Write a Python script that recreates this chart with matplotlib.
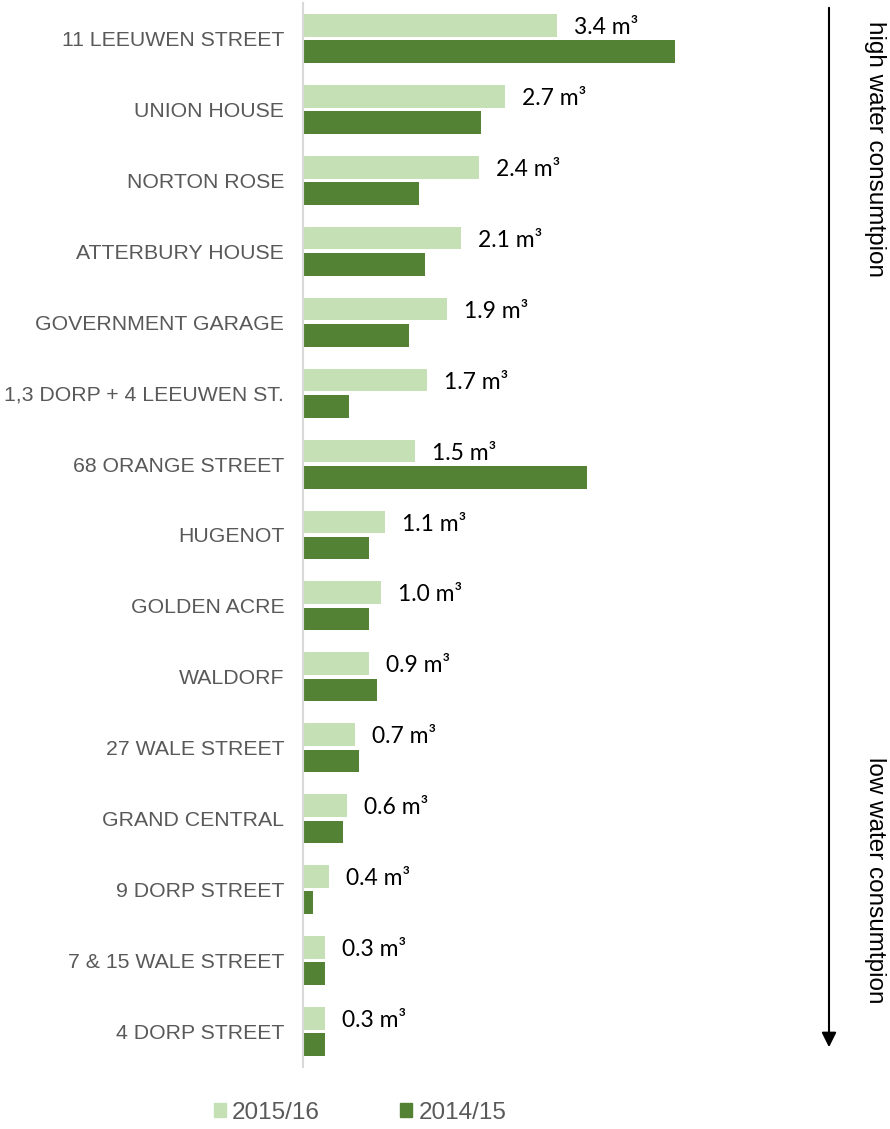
import matplotlib
matplotlib.use("Agg")
import matplotlib.pyplot as plt
from matplotlib.patches import Patch
import numpy as np

categories = ["11 LEEUWEN STREET", "UNION HOUSE", "NORTON ROSE", "ATTERBURY HOUSE",
              "GOVERNMENT GARAGE", "1,3 DORP + 4 LEEUWEN ST.", "68 ORANGE STREET",
              "HUGENOT", "GOLDEN ACRE", "WALDORF", "27 WALE STREET", "GRAND CENTRAL",
              "9 DORP STREET", "7 & 15 WALE STREET", "4 DORP STREET"]
v2015 = [3.4, 2.7, 2.36, 2.12, 1.93, 1.66, 1.5, 1.1, 1.04, 0.88, 0.7, 0.59, 0.35, 0.29, 0.29]
v2014 = [4.98, 2.38, 1.55, 1.63, 1.42, 0.62, 3.8, 0.88, 0.88, 0.99, 0.75, 0.54, 0.13, 0.29, 0.29]
labels2015 = ["3.4", "2.7", "2.4", "2.1", "1.9", "1.7", "1.5", "1.1", "1.0", "0.9", "0.7", "0.6", "0.4", "0.3", "0.3"]
series_names = ["2015/16", "2014/15"]

LIGHT = "#c5e0b4"
DARK = "#548235"
W, H = 890, 1129

fig = plt.figure(figsize=(W / 100, H / 100), dpi=100)
ax_left = 303 / W
ax_right = 780 / W
ax_top = 1 - 3 / H
ax_bot = 1 - 1067 / H
ax = fig.add_axes([ax_left, ax_bot, ax_right - ax_left, ax_top - ax_bot])

pxu = 74.7
xmax = (780 - 303) / pxu
n = len(categories)
y = np.arange(n)
h = 0.32
off = 0.185

ax.barh(y - off, v2015, height=h, color=LIGHT, label=series_names[0])
ax.barh(y + off, v2014, height=h, color=DARK, label=series_names[1])

for yi, v, lab in zip(y, v2015, labels2015):
    ax.text(v + 17 / pxu, yi - off + 0.03, f"{lab} m³", va="center", ha="left",
            fontsize=16.5, family=["Lato", "DejaVu Sans"], color="black")

ax.set_ylim(n - 0.5, -0.5)
ax.set_xlim(0, xmax)
ax.set_yticks(y)
ax.set_yticklabels(categories, fontsize=15.3, color="#595959", family="Liberation Sans")
ax.tick_params(axis="y", length=0, pad=13.5)
ax.set_xticks([])
for s in ["top", "right", "bottom"]:
    ax.spines[s].set_visible(False)
ax.spines["left"].set_color("#d9d9d9")
ax.spines["left"].set_linewidth(1.5)

# arrow on right
ax.annotate("", xy=(829, H - 1050), xytext=(829, H - 5),
            xycoords="figure pixels", textcoords="figure pixels",
            arrowprops=dict(arrowstyle="-|>", mutation_scale=22, color="black", lw=1.5))
fig.text(875 / W, 1 - 149 / H, "high water consumtpion", rotation=270, ha="center", va="center",
         fontsize=17.5, family="Liberation Sans", color="black")
fig.text(875 / W, 1 - 880 / H, "low water consumtpion", rotation=270, ha="center", va="center",
         fontsize=17.5, family="Liberation Sans", color="black")

handles = [Patch(color=LIGHT), Patch(color=DARK)]
leg = fig.legend(handles, series_names, loc="center", bbox_to_anchor=(360 / W, 1 - 1113 / H),
                 ncol=2, frameon=False, handlelength=0.5, handleheight=0.5, handletextpad=0.25,
                 columnspacing=3.3, prop={"family": "Liberation Sans", "size": 17.5})
for t in leg.get_texts():
    t.set_color("#595959")

fig.savefig("out.png", dpi=100)
